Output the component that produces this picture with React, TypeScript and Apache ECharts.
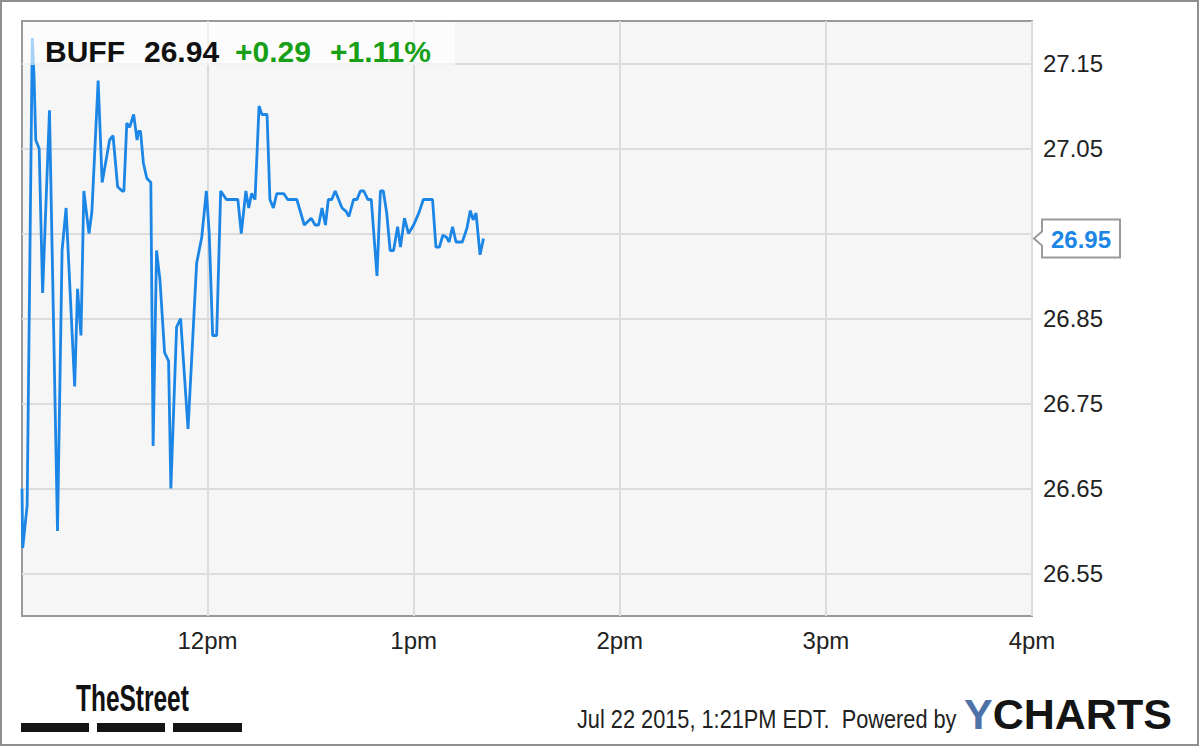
import React, { useEffect, useRef } from "react";
import * as echarts from "echarts";

// ---- data ----
const times = [
  "11:06:00", "11:06:12", "11:07:30", "11:09:00", "11:09:30", "11:10:00", "11:11:00", "11:12:00",
  "11:14:00", "11:16:20", "11:17:40", "11:18:50", "11:21:20", "11:22:10", "11:23:10", "11:24:00",
  "11:25:30", "11:26:20", "11:28:10", "11:29:20", "11:31:30", "11:32:30", "11:33:50", "11:35:10",
  "11:35:40", "11:36:30", "11:37:20", "11:38:30", "11:39:30", "11:39:50", "11:40:30", "11:41:20",
  "11:42:20", "11:43:30", "11:44:10", "11:45:10", "11:46:10", "11:47:30", "11:48:40", "11:49:20",
  "11:51:00", "11:52:10", "11:54:20", "11:56:50", "11:58:20", "11:59:40", "12:00:30", "12:01:30",
  "12:02:40", "12:03:50", "12:05:30", "12:08:50", "12:09:50", "12:11:10", "12:12:00", "12:12:50",
  "12:13:50", "12:15:00", "12:15:50", "12:17:20", "12:18:10", "12:19:10", "12:20:10", "12:22:10",
  "12:23:20", "12:26:00", "12:28:10", "12:30:10", "12:31:20", "12:32:20", "12:33:20", "12:34:20",
  "12:35:10", "12:36:10", "12:37:10", "12:39:10", "12:40:20", "12:41:10", "12:42:30", "12:43:30",
  "12:44:30", "12:45:30", "12:46:40", "12:47:40", "12:49:20", "12:50:20", "12:51:10", "12:52:10",
  "12:53:10", "12:54:10", "12:55:20", "12:56:10", "12:57:20", "12:58:30", "13:00:00", "13:01:30",
  "13:02:50", "13:05:30", "13:06:30", "13:07:30", "13:08:30", "13:09:30", "13:10:20", "13:11:20",
  "13:12:20", "13:14:10", "13:15:30", "13:16:30", "13:17:20", "13:18:10", "13:19:20", "13:20:20",
];
const prices = [
  26.65, 26.58, 26.63, 27.18, 27.135, 27.06, 27.05, 26.88,
  27.095, 26.6, 26.93, 26.98, 26.77, 26.885, 26.83, 27.0,
  26.95, 26.975, 27.13, 27.01, 27.06, 27.065, 27.005, 27.0,
  27.0, 27.08, 27.075, 27.09, 27.06, 27.07, 27.07, 27.033,
  27.015, 27.01, 26.7, 26.93, 26.895, 26.81, 26.8, 26.65,
  26.84, 26.85, 26.72, 26.915, 26.946, 27.0, 26.95, 26.83,
  26.83, 27.0, 26.99, 26.99, 26.95, 27.0, 26.98, 26.997,
  26.99, 27.1, 27.09, 27.09, 26.99, 26.98, 26.997, 26.997,
  26.99, 26.99, 26.96, 26.968, 26.96, 26.96, 26.98, 26.96,
  26.99, 26.99, 27.0, 26.98, 26.976, 26.97, 26.99, 26.99,
  27.0, 27.0, 26.99, 26.99, 26.9, 27.0, 27.0, 26.974,
  26.93, 26.93, 26.958, 26.934, 26.968, 26.95, 26.96, 26.974,
  26.99, 26.99, 26.934, 26.934, 26.948, 26.946, 26.94, 26.958,
  26.94, 26.94, 26.956, 26.977, 26.966, 26.974, 26.925, 26.944,
];
const xTickTimes = ["12:00", "13:00", "14:00", "15:00", "16:00"];
const xTickLabels = ["12pm", "1pm", "2pm", "3pm", "4pm"];
const yTicks = [26.55, 26.65, 26.75, 26.85, 26.95, 27.05, 27.15];
const axisStart = "11:06";
const axisEnd = "16:00";
const yMin = 26.5;
const yMax = 27.2;
const ticker = "BUFF";
const lastPrice = "26.94";
const change = "+0.29";
const changePct = "+1.11%";
const lastLabel = "26.95";
const footerText = "Jul 22 2015, 1:21PM EDT.  Powered by";

const toMin = (t: string) => {
  const [h, m, s] = t.split(":").map(Number);
  return h * 60 + m + (s || 0) / 60;
};

const BLUE = "#1b86e6";
const GREEN = "#17a017";
const FONT = "'Liberation Sans', Arial, sans-serif";

export default function App() {
  const ref = useRef<HTMLDivElement>(null);
  useEffect(() => {
    document.body.style.margin = "0";
    const chart = echarts.init(ref.current!, undefined, { renderer: "svg" });
    const data = times.map((t, i) => [toMin(t), prices[i]]);
    const xTicks = xTickTimes.map(toMin);
    // the last-price box covers the axis label with the same text
    const yLabelValues = yTicks.filter((v) => v.toFixed(2) !== lastLabel);
    chart.setOption({
      animation: false,
      backgroundColor: "#ffffff",
      grid: {
        left: 22,
        right: 168,
        top: 21,
        bottom: 131,
        show: true,
        backgroundColor: "#f6f6f6",
        borderColor: "#9a9a9a",
        borderWidth: 2,
      },
      xAxis: {
        type: "value",
        min: toMin(axisStart),
        max: toMin(axisEnd),
        axisLine: { show: false },
        axisTick: { show: false, customValues: xTicks },
        axisLabel: {
          customValues: xTicks,
          margin: 12,
          color: "#222",
          fontFamily: FONT,
          fontSize: 24,
          formatter: (v: number) => {
            const i = xTicks.findIndex((x) => Math.abs(x - v) < 0.01);
            return i >= 0 ? xTickLabels[i] : "";
          },
        },
        splitLine: { show: true, lineStyle: { color: "#dcdcdc", width: 2 } },
      },
      yAxis: {
        type: "value",
        position: "right",
        min: yMin,
        max: yMax,
        axisLine: { show: false },
        axisTick: { show: false, customValues: yTicks },
        axisLabel: {
          customValues: yLabelValues,
          margin: 11,
          color: "#222",
          fontFamily: FONT,
          fontSize: 24,
          formatter: (v: number) => v.toFixed(2),
        },
        splitLine: { show: true, lineStyle: { color: "#dcdcdc", width: 2 } },
      },
      series: [
        {
          type: "line",
          data,
          symbol: "none",
          lineStyle: { color: BLUE, width: 2.8 },
          z: 3,
        },
      ],
    });

    const last = data[data.length - 1];
    const [, py] = chart.convertToPixel({ gridIndex: 0 }, last as any) as number[];
    const rightX = chart.convertToPixel({ xAxisIndex: 0 }, toMin(axisEnd)) as number;
    const tip = rightX + 2;
    const bx = tip + 8;
    const bw = 78;
    const bh = 19;

    chart.setOption({
      graphic: [
        {
          type: "rect",
          z: 100,
          shape: { x: 23, y: 22, width: 432, height: 43 },
          style: { fill: "rgba(255,255,255,0.62)" },
        },
        {
          type: "text",
          z: 101,
          x: 45,
          y: 51,
          style: { text: ticker, fill: "#111", font: `bold 30px ${FONT}`, verticalAlign: "middle" },
        },
        {
          type: "text",
          z: 101,
          x: 144,
          y: 51,
          style: { text: lastPrice, fill: "#111", font: `bold 30px ${FONT}`, verticalAlign: "middle" },
        },
        {
          type: "text",
          z: 101,
          x: 235,
          y: 51,
          style: { text: change, fill: GREEN, font: `bold 30px ${FONT}`, verticalAlign: "middle" },
        },
        {
          type: "text",
          z: 101,
          x: 330,
          y: 51,
          style: { text: changePct, fill: GREEN, font: `bold 30px ${FONT}`, verticalAlign: "middle" },
        },
        {
          type: "polygon",
          z: 100,
          shape: {
            points: [
              [tip, py],
              [bx, py - 7],
              [bx, py - bh],
              [bx + bw, py - bh],
              [bx + bw, py + bh],
              [bx, py + bh],
              [bx, py + 7],
            ],
          },
          style: { fill: "#ffffff", stroke: "#9a9a9a", lineWidth: 2 },
        },
        {
          type: "text",
          z: 101,
          x: bx + bw / 2,
          y: py + 1,
          style: {
            text: lastLabel,
            fill: BLUE,
            font: `bold 24px ${FONT}`,
            align: "center",
            verticalAlign: "middle",
          },
        },
        {
          type: "text",
          z: 101,
          x: 76,
          y: 699,
          scaleX: 0.68,
          originX: 0,
          originY: 0,
          style: {
            text: "TheStreet",
            fill: "#111",
            font: `bold 36px ${FONT}`,
            verticalAlign: "middle",
          },
        },
        { type: "rect", z: 101, shape: { x: 21, y: 723, width: 68, height: 9 }, style: { fill: "#151515" } },
        { type: "rect", z: 101, shape: { x: 97, y: 723, width: 68, height: 9 }, style: { fill: "#151515" } },
        { type: "rect", z: 101, shape: { x: 173, y: 723, width: 69, height: 9 }, style: { fill: "#151515" } },
        {
          type: "text",
          z: 101,
          x: 577,
          y: 719,
          scaleX: 0.87,
          originX: 0,
          originY: 0,
          style: { text: footerText, fill: "#222", font: `25px ${FONT}`, verticalAlign: "middle" },
        },
        {
          type: "text",
          z: 101,
          x: 964,
          y: 714,
          style: {
            text: "{y|Y}{c|CHARTS}",
            verticalAlign: "middle",
            rich: {
              y: { fill: "#4e72a8", font: `bold 43px ${FONT}` },
              c: { fill: "#141414", font: `bold 43px ${FONT}` },
            },
          },
        },
        {
          type: "rect",
          z: 102,
          shape: { x: 1, y: 1, width: 1197, height: 744 },
          style: { fill: "none", stroke: "#8f8f8f", lineWidth: 2 },
        },
      ],
    });

    return () => chart.dispose();
  }, []);
  return <div ref={ref} style={{ width: 1200, height: 747 }} />;
}
